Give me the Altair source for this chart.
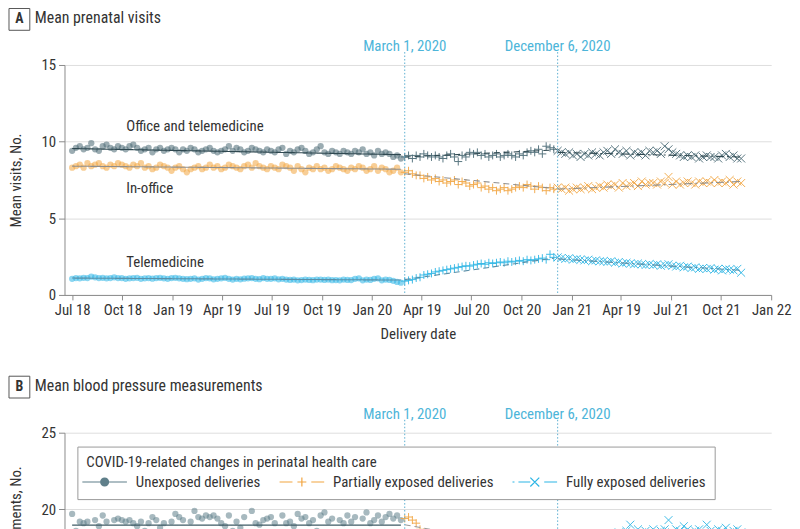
import altair as alt
import pandas as pd

FONT = "Liberation Sans Narrow, Roboto Condensed, DejaVu Sans Condensed, Arial Narrow, sans-serif"
TXT = "#333333"
CYAN_TXT = "#4db5d9"
RULE_C = "#5aaed0"

# ---------------- categories ----------------
period_names = ["Unexposed deliveries", "Partially exposed deliveries", "Fully exposed deliveries"]
period_starts = ["2018-07-01", "2020-03-01", "2020-12-06"]
period_ends = ["2020-02-23", "2020-11-29", "2021-11-07"]
series_names = ["Office and telemedicine", "In-office", "Telemedicine"]
series_colors = ["#486873", "#f2a540", "#2cb5e5"]
trend_colors = ["#2f4850", "#8e8e8e", "#5a8fa8"]

event_dates = ["2020-03-01", "2020-12-06"]
event_labels = ["March 1, 2020", "December 6, 2020"]

tick_months = [(2018, 7), (2018, 10), (2019, 1), (2019, 4), (2019, 7), (2019, 10), (2020, 1),
               (2020, 4), (2020, 7), (2020, 10), (2021, 1), (2021, 4), (2021, 7), (2021, 10), (2022, 1)]
tick_labels = ["Jul 18", "Oct 18", "Jan 19", "Apr 19", "Jul 19", "Oct 19", "Jan 20",
               "Apr 19", "Jul 20", "Oct 20", "Jan 21", "Apr 19", "Jul 21", "Oct 21", "Jan 22"]

# ---------------- panel A values (weekly means) ----------------
office_unexposed = [9.4, 9.6, 9.7, 9.5, 9.6, 9.9, 9.5, 9.4, 9.7, 9.8, 9.6, 9.5, 9.7,
                    9.6, 9.5, 9.7, 9.8, 9.6, 9.4, 9.5, 9.6, 9.3, 9.5, 9.6, 9.4, 9.5,
                    9.6, 9.5, 9.3, 9.5, 9.4, 9.6, 9.5, 9.3, 9.4, 9.5, 9.6, 9.4, 9.3,
                    9.4, 9.5, 9.7, 9.4, 9.6, 9.5, 9.3, 9.4, 9.6, 9.5, 9.4, 9.3, 9.5,
                    9.4, 9.3, 9.5, 9.6, 9.2, 9.4, 9.3, 9.5, 9.6, 9.4, 9.2, 9.3, 9.5,
                    9.7, 9.3, 9.2, 9.4, 9.3, 9.2, 9.4, 9.3, 9.2, 9.4, 9.3, 9.5, 9.2,
                    9.3, 9.1, 9.4, 9.2, 9.3, 9.2, 9.0, 9.1, 8.9]
office_partial = [9.0, 9.1, 8.9, 9.1, 9.0, 9.2, 9.1, 9.0, 9.1, 9.0,
                  8.9, 9.1, 9.2, 9.0, 8.7, 9.1, 9.0, 9.3, 9.2, 9.3,
                  9.1, 9.2, 9.0, 9.1, 9.2, 9.0, 9.1, 9.2, 9.1, 9.0,
                  9.2, 9.1, 9.3, 9.4, 9.3, 9.5, 9.2, 9.7, 9.6, 9.5]
office_full = [9.4, 9.3, 9.2, 9.3, 9.1, 9.2, 9.0, 9.2, 9.1, 9.3,
               9.2, 9.1, 9.3, 9.4, 9.2, 9.5, 9.3, 9.2, 9.4, 9.1,
               9.3, 9.2, 9.3, 9.1, 9.4, 9.3, 9.4, 9.2, 9.7, 9.5,
               9.3, 9.2, 9.1, 9.0, 9.1, 9.0, 9.1, 8.9, 9.0, 9.1,
               9.0, 9.0, 8.9, 9.1, 9.2, 9.0, 9.1, 8.9, 8.9]

inoffice_unexposed = [8.3, 8.4, 8.5, 8.3, 8.6, 8.4, 8.5, 8.6, 8.4, 8.3, 8.5, 8.4, 8.6,
                      8.5, 8.4, 8.3, 8.5, 8.4, 8.6, 8.3, 8.4, 8.2, 8.3, 8.5, 8.4, 8.3,
                      8.1, 8.3, 8.4, 8.2, 8.0, 8.2, 8.3, 8.4, 8.2, 8.3, 8.5, 8.3, 8.4,
                      8.2, 8.3, 8.5, 8.4, 8.3, 8.2, 8.4, 8.5, 8.3, 8.6, 8.4, 8.3, 8.2,
                      8.4, 8.3, 8.2, 8.5, 8.4, 8.3, 8.1, 8.4, 8.2, 8.0, 8.3, 8.2, 8.4,
                      8.2, 8.3, 8.1, 8.2, 8.4, 8.3, 8.2, 8.1, 8.3, 8.2, 8.4, 8.3, 8.1,
                      8.2, 8.4, 8.1, 8.3, 8.2, 8.0, 8.1, 8.3, 8.0]
inoffice_partial = [8.0, 8.1, 7.9, 7.8, 7.8, 7.6, 7.7, 7.5, 7.6, 7.4,
                    7.5, 7.3, 7.4, 7.5, 7.2, 7.4, 7.3, 7.1, 7.2, 7.3,
                    7.0, 7.1, 6.9, 7.0, 6.8, 6.9, 7.0, 6.8, 6.9, 7.0,
                    7.1, 7.0, 7.2, 7.1, 6.9, 7.1, 7.0, 6.8, 7.0, 6.9]
inoffice_full = [7.0, 6.9, 7.0, 6.8, 6.9, 7.0, 6.9, 7.0, 7.1, 6.9,
                 7.0, 7.1, 7.0, 7.2, 7.1, 7.2, 7.0, 7.3, 7.1, 7.2,
                 7.3, 7.1, 7.4, 7.2, 7.3, 7.3, 7.2, 7.4, 7.3, 7.7,
                 7.2, 7.4, 7.2, 7.3, 7.4, 7.3, 7.2, 7.4, 7.3, 7.4,
                 7.3, 7.5, 7.3, 7.4, 7.3, 7.5, 7.2, 7.4, 7.3]

tele_unexposed = [1.05, 1.1, 1.08, 1.12, 1.1, 1.2, 1.15, 1.1, 1.12, 1.08, 1.1, 1.15, 1.1,
                  1.1, 1.05, 1.08, 1.1, 1.12, 1.05, 1.08, 1.1, 1.06, 1.1, 1.12, 1.08, 1.05,
                  1.1, 1.12, 1.08, 1.05, 1.03, 1.05, 1.08, 1.0, 1.05, 1.1, 1.08, 1.02, 1.05,
                  1.08, 1.12, 1.05, 1.0, 1.05, 1.02, 1.06, 1.08, 1.1, 1.05, 1.03, 1.1, 1.05,
                  1.05, 1.08, 1.02, 1.05, 1.0, 0.98, 1.0, 0.95, 0.97, 1.0, 0.98, 0.96, 1.0,
                  1.0, 0.98, 1.0, 0.96, 0.97, 0.95, 1.0, 0.98, 0.97, 1.05, 1.08, 0.95, 1.0,
                  0.98, 1.05, 1.08, 0.95, 1.0, 0.98, 0.92, 0.85, 0.8]
tele_partial = [0.9, 0.95, 1.0, 1.1, 1.15, 1.3, 1.35, 1.4, 1.5, 1.55,
                1.6, 1.65, 1.7, 1.75, 1.8, 1.85, 1.9, 1.88, 1.95, 2.0,
                2.05, 2.0, 2.1, 2.05, 2.1, 2.15, 2.1, 2.2, 2.15, 2.2,
                2.25, 2.2, 2.3, 2.25, 2.3, 2.35, 2.4, 2.3, 2.65, 2.45]
tele_full = [2.45, 2.4, 2.35, 2.4, 2.3, 2.35, 2.3, 2.25, 2.3, 2.2,
             2.25, 2.2, 2.2, 2.15, 2.2, 2.1, 2.15, 2.05, 2.1, 2.05,
             2.0, 2.05, 2.0, 1.95, 2.0, 1.95, 2.0, 1.9, 1.95, 2.0,
             1.9, 1.85, 1.9, 1.8, 1.85, 1.75, 1.8, 1.7, 1.75, 1.7,
             1.75, 1.65, 1.7, 1.6, 1.7, 1.65, 1.6, 1.7, 1.45]

# fitted segment start/end values per period (unexposed, partial, full)
office_trend = [9.55, 9.15, 9.0, 9.45, 9.3, 9.0]
inoffice_trend = [8.4, 8.2, 7.9, 6.95, 6.9, 7.4]
tele_trend = [1.1, 0.97, 1.0, 2.4, 2.35, 1.6]

# series label anchors
label_dates = ["2018-10-08", "2018-10-08", "2018-10-08"]
label_values = [11.0, 7.0, 2.13]

# ---------------- panel B values ----------------
bp_unexposed = [19.7, 18.6, 19.2, 19.1, 19.2, 18.5, 19.3, 18.9, 19.6, 19.2,
                18.4, 19.3, 19.4, 19.3, 19.2, 19.3, 19.1, 18.9, 19.2, 18.6,
                19.1, 19.5, 19.3, 18.8, 19.1, 18.5, 19.2, 19.7, 19.5, 19.3,
                18.4, 19.2, 19.9, 19.5, 19.4, 19.6, 19.5, 19.6, 19.4, 19.1,
                18.9, 19.6, 18.6, 19.2, 18.8, 19.5, 18.5, 19.9, 19.1, 19.0,
                19.3, 19.4, 19.5, 19.1, 18.3, 19.6, 19.1, 19.2, 18.9, 19.7,
                19.4, 19.5, 19.1, 19.3, 18.6, 19.6, 19.8, 19.2, 19.4, 18.5,
                19.3, 19.1, 19.6, 19.2, 19.5, 18.4, 19.4, 19.8, 19.1, 19.3,
                19.6, 19.2, 19.5, 19.7, 19.4, 19.6, 19.3]
bp_partial = [19.4, 19.5, 19.3, 19.1, 18.7, 18.5, 18.3, 18.4, 18.0, 18.2,
              17.8, 17.9, 17.6, 17.8, 17.5, 17.7, 17.4, 17.6, 17.3, 17.5,
              17.4, 17.2, 17.5, 17.3, 17.1, 17.4, 17.2, 17.3, 17.0, 17.2,
              17.4, 17.1, 17.3, 17.2, 17.0, 17.3, 17.1, 17.2, 17.4, 17.1]
bp_full = [17.3, 17.5, 17.2, 17.6, 17.8, 17.5, 17.9, 18.0, 17.8, 18.1,
           18.2, 18.0, 18.3, 18.1, 18.4, 18.2, 18.5, 18.3, 18.6, 19.0,
           18.4, 18.7, 18.5, 18.6, 18.4, 18.7, 18.5, 18.6, 18.7, 19.3,
           18.5, 18.7, 18.6, 18.9, 18.7, 18.5, 18.6, 18.7, 18.4, 19.0,
           18.6, 18.5, 18.7, 18.6, 18.8, 18.5, 18.6, 18.7, 18.5]
bp_trend = [18.97, 18.97, 19.0, 17.2, 17.8, 18.7]

# ---------------- tables ----------------
def build(series_lists):
    rows = []
    for s, lists in series_lists:
        for p, start, vals in zip(period_names, period_starts, lists):
            for d, v in zip(pd.date_range(start, periods=len(vals), freq="7D"), vals):
                rows.append({"series": s, "period": p, "date": d, "value": v})
    return pd.DataFrame(rows)


def build_trend(series_trends):
    rows = []
    for s, vals in series_trends:
        for i, p in enumerate(period_names):
            rows.append({"series": s, "period": p, "key": s + p,
                         "date": pd.Timestamp(period_starts[i]), "value": vals[2 * i]})
            rows.append({"series": s, "period": p, "key": s + p,
                         "date": pd.Timestamp(period_ends[i]), "value": vals[2 * i + 1]})
    return pd.DataFrame(rows)


dfA = build([(series_names[0], [office_unexposed, office_partial, office_full]),
             (series_names[1], [inoffice_unexposed, inoffice_partial, inoffice_full]),
             (series_names[2], [tele_unexposed, tele_partial, tele_full])])
dfA_trend = build_trend([(series_names[0], office_trend), (series_names[1], inoffice_trend),
                         (series_names[2], tele_trend)])
dfA_labels = pd.DataFrame({"date": pd.to_datetime(label_dates), "value": label_values,
                           "label": series_names})

dfB = build([("Blood pressure", [bp_unexposed, bp_partial, bp_full])])
dfB_trend = build_trend([("Blood pressure", bp_trend)])

df_events = pd.DataFrame({"date": pd.to_datetime(event_dates), "label": event_labels})

# ---------------- shared encodings ----------------
PLUS = "M-1,0L1,0M0,-1L0,1"
CROSS = "M-1,-1L1,1M-1,1L1,-1"


def ring(cx, r):
    return f"M{cx - r:.3f},0A{r},{r},0,1,1,{cx + r:.3f},0A{r},{r},0,1,1,{cx - r:.3f},0Z"


LEG_PATHS = [
    "M-1.667,0L4.333,0" + "".join(ring(1.333, r) for r in [0.53, 0.4, 0.27, 0.14]),
    "M-1.667,0L0.067,0M2.6,0L4.333,0M0.733,0L1.933,0M1.333,-0.6L1.333,0.6",
    "M-1.667,0L-1.4,0M-0.867,0L0.733,0M0.733,-0.6L1.933,0.6M0.733,0.6L1.933,-0.6M2.6,0L4.333,0",
]
LEG_COLORS = ["#5f7f8a", "#f2a540", "#2cb5e5"]

keys = [f"{y}-{m:02d}" for y, m in tick_months]
label_expr = "{" + ",".join(f"'{k}':'{l}'" for k, l in zip(keys, tick_labels)) + "}[timeFormat(datum.value,'%Y-%m')]"

X_SCALE = alt.Scale(domain=[alt.DateTime(year=2018, month=6, date=17),
                            alt.DateTime(year=2022, month=1, date=1)])
X_AXIS = alt.Axis(values=[alt.DateTime(year=y, month=m, date=1) for y, m in tick_months],
                  labelExpr=label_expr, title="Delivery date", grid=False,
                  domainColor="#8a8a8a", tickColor="#8a8a8a", tickSize=5,
                  labelFontSize=15, labelColor=TXT, labelPadding=3, labelOverlap=False,
                  labelFlush=False, titleFontSize=15, titleFontWeight="normal",
                  titleColor=TXT, titlePadding=9)


def y_axis(vals, title, h):
    return alt.Axis(values=vals, title=title, grid=True, gridColor="#dedede",
                    domainColor="#8a8a8a", tickColor="#8a8a8a", tickSize=6,
                    labelFontSize=15, labelColor=TXT, labelPadding=3,
                    titleFontSize=15, titleFontWeight="normal", titleColor=TXT,
                    titleX=-41, titleY=h / 2, titleBaseline="bottom", titleAlign="center")


def x_enc():
    return alt.X("date:T", scale=X_SCALE, axis=X_AXIS)


def panel(df, df_trend, y_dom, y_vals, y_title, h, letter, title, point_colors, extra):
    Y = alt.Y("value:Q", scale=alt.Scale(domain=y_dom, nice=False), axis=y_axis(y_vals, y_title, h))
    col = alt.Color("series:N", scale=alt.Scale(domain=point_colors[0], range=point_colors[1]), legend=None)
    circles = alt.Chart(df).transform_filter(alt.datum.period == period_names[0]).mark_circle(
        size=40, opacity=0.55).encode(x=x_enc(), y=Y, color=col)
    plus = alt.Chart(df).transform_filter(alt.datum.period == period_names[1]).mark_point(
        shape=PLUS, size=64, filled=False, strokeWidth=1, opacity=0.9).encode(x=x_enc(), y=Y, color=col)
    cross = alt.Chart(df).transform_filter(alt.datum.period == period_names[2]).mark_point(
        shape=CROSS, size=64, filled=False, strokeWidth=1, opacity=0.9).encode(x=x_enc(), y=Y, color=col)
    trend = alt.Chart(df_trend).mark_line(strokeWidth=1.1).encode(
        x=x_enc(), y=Y, detail="key:N",
        color=alt.Color("series:N", scale=alt.Scale(domain=point_colors[0], range=point_colors[2]), legend=None),
        strokeDash=alt.StrokeDash("period:N", scale=alt.Scale(domain=period_names,
                                  range=[[1, 0], [6, 4], [8, 3, 2, 3]]), legend=None))
    rules = alt.Chart(df_events).mark_rule(color=RULE_C, strokeDash=[1.5, 2], strokeWidth=1).encode(
        x=x_enc(), y=alt.value(-13), y2=alt.value(h))
    ev_text = alt.Chart(df_events).mark_text(fontSize=15, color=CYAN_TXT, baseline="middle").encode(
        x=x_enc(), y=alt.value(-19), text="label:N")
    tdf = pd.DataFrame({"letter": [letter], "title": [title]})
    box = alt.Chart(tdf).mark_rect(fill="white", stroke="#555555", strokeWidth=1).encode(
        x=alt.value(-56), x2=alt.value(-35), y=alt.value(-57), y2=alt.value(-35))
    let = alt.Chart(tdf).mark_text(fontSize=14, fontWeight="bold", color=TXT, baseline="middle").encode(
        x=alt.value(-45.5), y=alt.value(-46), text="letter:N")
    ttl = alt.Chart(tdf).mark_text(fontSize=16, color=TXT, align="left", baseline="middle").encode(
        x=alt.value(-30), y=alt.value(-47), text="title:N")
    layers = [circles, plus, cross, trend] + extra(Y) + [rules, ev_text, box, let, ttl]
    return alt.layer(*layers).properties(width=713, height=h).resolve_scale(
        color="independent", shape="independent")


def no_extra(Y):
    return [alt.Chart(dfA_labels).mark_text(fontSize=15, color=TXT, align="left", baseline="middle").encode(
        x=x_enc(), y=Y, text="label:N")]


LEG = alt.Legend(title="COVID-19-related changes in perinatal health care", orient="none",
                 legendX=13, legendY=14, direction="horizontal", symbolSize=225,
                 symbolStrokeWidth=1.2, symbolOpacity=1,
                 labelFontSize=15, labelColor=TXT, labelLimit=400, titleLimit=600,
                 titleFontSize=15, titleFontWeight="normal",
                 titleColor=TXT, titlePadding=3, padding=9, strokeColor="#999999",
                 fillColor="white", columnPadding=16, labelOffset=33, cornerRadius=0)


def legend_layer(Y):
    return [alt.Chart(dfB).mark_point(opacity=0, filled=False).encode(
        x=x_enc(), y=Y,
        color=alt.Color("period:N", scale=alt.Scale(domain=period_names, range=LEG_COLORS), legend=LEG),
        shape=alt.Shape("period:N", scale=alt.Scale(domain=period_names, range=LEG_PATHS), legend=LEG))]


hA = 232
hB = 309.4
chartA = panel(dfA, dfA_trend, [0, 15], [0, 5, 10, 15], "Mean visits, No.", hA, "A",
               "Mean prenatal visits", (series_names, series_colors, trend_colors), no_extra)

dfB2 = dfB.copy()
dfB2["series"] = dfB2["period"]
dfB_trend2 = dfB_trend.copy()
dfB_trend2["series"] = dfB_trend2["period"]
chartB = panel(dfB2, dfB_trend2, [5, 25], [5, 10, 15, 20, 25], "Mean blood pressure measurements, No.", hB,
               "B", "Mean blood pressure measurements",
               (period_names, LEG_COLORS, ["#3d5a64", "#9a9a9a", "#5a8fa8"]), legend_layer)

chart = alt.vconcat(chartA, chartB, spacing=33).properties(
    padding={"left": 0, "top": -4, "right": 0, "bottom": 0}
).configure(font=FONT).configure_view(stroke="transparent")

chart.save("out.html", embed_options={"renderer": "svg", "actions": False})
